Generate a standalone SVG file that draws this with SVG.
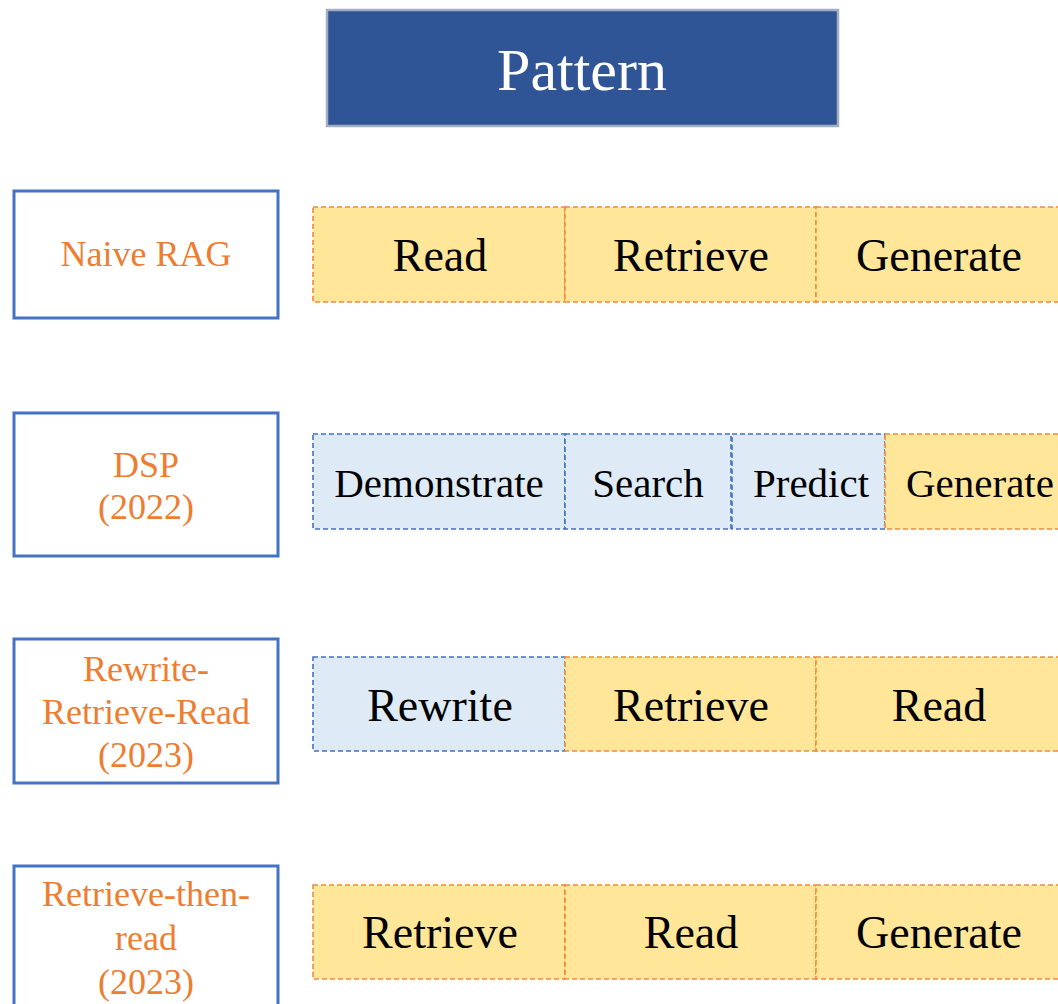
<svg xmlns="http://www.w3.org/2000/svg" width="1058" height="1004" viewBox="0 0 1058 1004">
  <style>
    text { font-family: 'Liberation Serif', serif; }
    .title-box { fill: #2F5597; stroke: #A3AEC4; stroke-width: 2.5; }
    .title-text { font-size: 60px; fill: #FFFFFF; text-anchor: middle; }
    .label-box { fill: #FFFFFF; stroke: #4472C4; stroke-width: 3; }
    .label-text { font-size: 36px; fill: #ED7D31; text-anchor: middle; }
    .step-gen { fill: #FFE699; stroke: #F08A3E; stroke-width: 1.6; stroke-dasharray: 5 3; }
    .step-lm { fill: #DEEBF7; stroke: #4472C4; stroke-width: 1.6; stroke-dasharray: 5 3; }
    .step-text { font-size: 46px; fill: #000000; text-anchor: middle; }
    .step-text.small { font-size: 41px; }
  </style>

  <!-- header -->
  <g id="title">
    <rect class="title-box" x="327" y="10" width="511" height="116"/>
    <text class="title-text" x="582" y="90" font-family="Liberation Serif, serif">Pattern</text>
  </g>

  <!-- pattern names -->
  <g id="naive-rag" font-family="Liberation Serif, serif">
    <rect class="label-box" x="14" y="191" width="264" height="127"/>
    <text class="label-text" x="146" y="266">Naive RAG</text>
  </g>
  <g id="dsp" font-family="Liberation Serif, serif">
    <rect class="label-box" x="14" y="413" width="264" height="143"/>
    <text class="label-text" x="146" y="477">DSP</text>
    <text class="label-text" x="146" y="519">(2022)</text>
  </g>
  <g id="rewrite-retrieve-read" font-family="Liberation Serif, serif">
    <rect class="label-box" x="14" y="639" width="264" height="144"/>
    <text class="label-text" x="146" y="681">Rewrite-</text>
    <text class="label-text" x="146" y="724">Retrieve-Read</text>
    <text class="label-text" x="146" y="767">(2023)</text>
  </g>
  <g id="retrieve-then-read" font-family="Liberation Serif, serif">
    <rect class="label-box" x="14" y="866" width="264" height="160"/>
    <text class="label-text" x="146" y="906">Retrieve-then-</text>
    <text class="label-text" x="146" y="950">read</text>
    <text class="label-text" x="146" y="994">(2023)</text>
  </g>

  <!-- Naive RAG steps -->
  <g id="row-naive" font-family="Liberation Serif, serif">
    <g id="naive-read">
      <rect class="step-gen" x="313" y="207" width="252" height="95"/>
      <text class="step-text" x="440" y="271">Read</text>
    </g>
    <g id="naive-retrieve">
      <rect class="step-gen" x="565" y="207" width="251" height="95"/>
      <text class="step-text" x="691" y="271">Retrieve</text>
    </g>
    <g id="naive-generate">
      <rect class="step-gen" x="816" y="207" width="250" height="95"/>
      <text class="step-text" x="939" y="271">Generate</text>
    </g>
  </g>

  <!-- DSP steps -->
  <g id="row-dsp" font-family="Liberation Serif, serif">
    <g id="dsp-demonstrate">
      <rect class="step-lm" x="313" y="434" width="252" height="95"/>
      <text class="step-text small" x="439" y="497">Demonstrate</text>
    </g>
    <g id="dsp-search">
      <rect class="step-lm" x="565" y="434" width="166" height="95"/>
      <text class="step-text small" x="648" y="497">Search</text>
    </g>
    <g id="dsp-predict">
      <rect class="step-lm" x="732" y="434" width="153" height="95"/>
      <text class="step-text small" x="811" y="497">Predict</text>
    </g>
    <g id="dsp-generate">
      <rect class="step-gen" x="885" y="434" width="180" height="95"/>
      <text class="step-text small" x="980" y="497">Generate</text>
    </g>
  </g>

  <!-- Rewrite-Retrieve-Read steps -->
  <g id="row-rrr" font-family="Liberation Serif, serif">
    <g id="rrr-rewrite">
      <rect class="step-lm" x="313" y="657" width="252" height="94"/>
      <text class="step-text" x="440" y="721">Rewrite</text>
    </g>
    <g id="rrr-retrieve">
      <rect class="step-gen" x="565" y="657" width="251" height="94"/>
      <text class="step-text" x="691" y="721">Retrieve</text>
    </g>
    <g id="rrr-read">
      <rect class="step-gen" x="816" y="657" width="250" height="94"/>
      <text class="step-text" x="939" y="721">Read</text>
    </g>
  </g>

  <!-- Retrieve-then-read steps -->
  <g id="row-rtr" font-family="Liberation Serif, serif">
    <g id="rtr-retrieve">
      <rect class="step-gen" x="313" y="885" width="252" height="94"/>
      <text class="step-text" x="440" y="948">Retrieve</text>
    </g>
    <g id="rtr-read">
      <rect class="step-gen" x="565" y="885" width="251" height="94"/>
      <text class="step-text" x="691" y="948">Read</text>
    </g>
    <g id="rtr-generate">
      <rect class="step-gen" x="816" y="885" width="250" height="94"/>
      <text class="step-text" x="939" y="948">Generate</text>
    </g>
  </g>

  <!-- no connectors between steps -->
  <g id="connectors"/>
</svg>
